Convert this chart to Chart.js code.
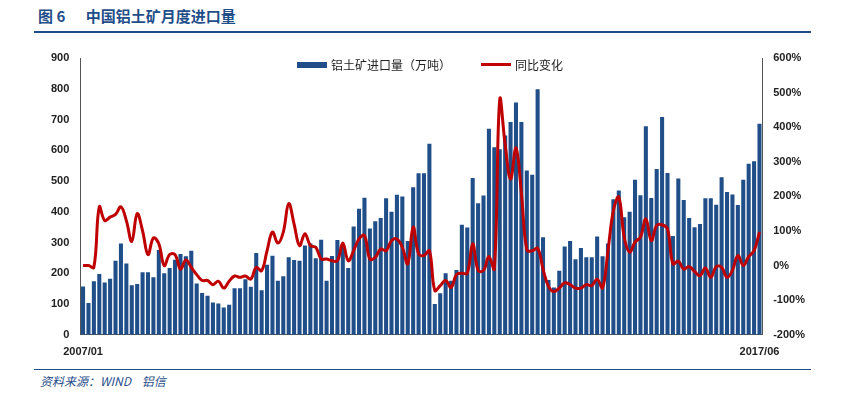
<!DOCTYPE html><html><head><meta charset="utf-8">
<script src="https://cdn.jsdelivr.net/npm/chart.js@4"></script>
<style>
body{margin:0;width:845px;height:402px;background:#fff;font-family:"Noto Sans CJK SC",sans-serif;position:relative;overflow:hidden}
#title{position:absolute;left:38px;top:5px;color:#1F4E89;font-weight:bold;font-size:15px}
#tl{position:absolute;left:34px;right:34px;top:31px;border-top:2px solid #1F4E89}
#bl{position:absolute;left:34px;right:34px;top:369px;border-top:1px solid #1F4E89}
#foot{position:absolute;left:40px;top:372px;color:#1F4E89;font-style:italic;font-size:12px}
#wrap{position:absolute;left:0;top:40px;width:845px;height:322px}
#leg{position:absolute;top:56px;left:297px;font-size:12px;color:#222;display:flex;align-items:center}
.sw{display:inline-block;width:30px;height:6px;background:#1F4E89;margin-right:4px}
.ln{display:inline-block;width:30px;height:3px;background:#C00000;margin:0 4px 0 30px}
</style></head><body>
<div id="title">图 6&nbsp;&nbsp;&nbsp;&nbsp;&nbsp;&nbsp;中国铝土矿月度进口量</div><div id="tl"></div>
<div id="wrap"><canvas id="c"></canvas></div>
<div id="leg"><span class="sw"></span>铝土矿进口量（万吨）<span class="ln"></span>同比变化</div>
<div id="bl"></div><div id="foot">资料来源：WIND&nbsp;&nbsp;&nbsp;&nbsp;铝信</div>
<script>
const imports=[157,103,174,198,170,182,241,297,232,161,165,203,203,187,276,200,217,244,263,255,273,167,136,127,105,102,89,98,151,151,181,156,266,
145,228,257,176,190,252,243,241,290,297,249,309,176,256,308,292,217,352,410,446,346,369,380,444,400,455,450,305,480,525,525,621,
100,135,200,176,211,358,349,510,428,453,670,610,603,648,692,755,692,534,520,798,317,178,154,208,287,305,246,282,252,252,320,
255,297,441,469,382,400,504,454,678,445,539,708,526,321,508,438,380,350,360,444,444,423,512,464,456,422,504,556,564,686];
const yoy=[0,0,-5,170,130,140,148,170,130,70,150,100,32,80,63,0,32,32,-10,16,-5,-26,-43,-43,-55,-45,-65,-45,-30,-34,-30,
-39,-5,-15,43,97,65,97,179,120,58,92,58,53,19,19,14,14,65,14,43,77,87,19,24,48,43,72,77,53,5,111,34,29,43,
-72,-58,-43,-63,-26,-22,-22,63,-14,-14,26,-10,480,350,250,340,210,45,43,50,-10,-60,-75,-65,-50,-55,-65,-65,-55,
-58,-39,-65,43,159,198,82,39,68,82,135,72,116,118,106,5,13,-10,-3,-17,-29,-7,-34,-3,-5,-34,-14,29,0,26,43,97];
const months=[];for(let y=2007;y<=2017;y++)for(let m=1;m<=12;m++){if(months.length<imports.length)months.push(y+'/'+String(m).padStart(2,'0'));}
new Chart(document.getElementById('c'),{data:{labels:months,datasets:[
{type:'line',data:yoy,yAxisID:'y1',borderColor:'#C00000',borderWidth:3,pointRadius:0,tension:0.4},
{type:'bar',data:imports,yAxisID:'y',backgroundColor:'#1F4E89',categoryPercentage:1,barPercentage:0.75}]},
options:{responsive:true,maintainAspectRatio:false,animation:false,
layout:{padding:{left:48,right:37,top:18,bottom:0}},
plugins:{legend:{display:false},tooltip:{enabled:false}},
scales:{
x:{grid:{display:false},border:{color:'#555'},ticks:{autoSkip:false,maxRotation:0,font:{size:11,weight:'bold'},color:'#222',
  callback:(v,i)=>(i===0||i===months.length-1)?months[i]:''}},
y:{min:0,max:900,ticks:{stepSize:100,font:{size:11,weight:'bold'},color:'#222'},grid:{display:false},border:{color:'#555'}},
y1:{position:'right',min:-200,max:600,ticks:{stepSize:100,callback:v=>v+'%',font:{size:11,weight:'bold'},color:'#222'},grid:{display:false},border:{color:'#555'}}
}}});
</script></body></html>
